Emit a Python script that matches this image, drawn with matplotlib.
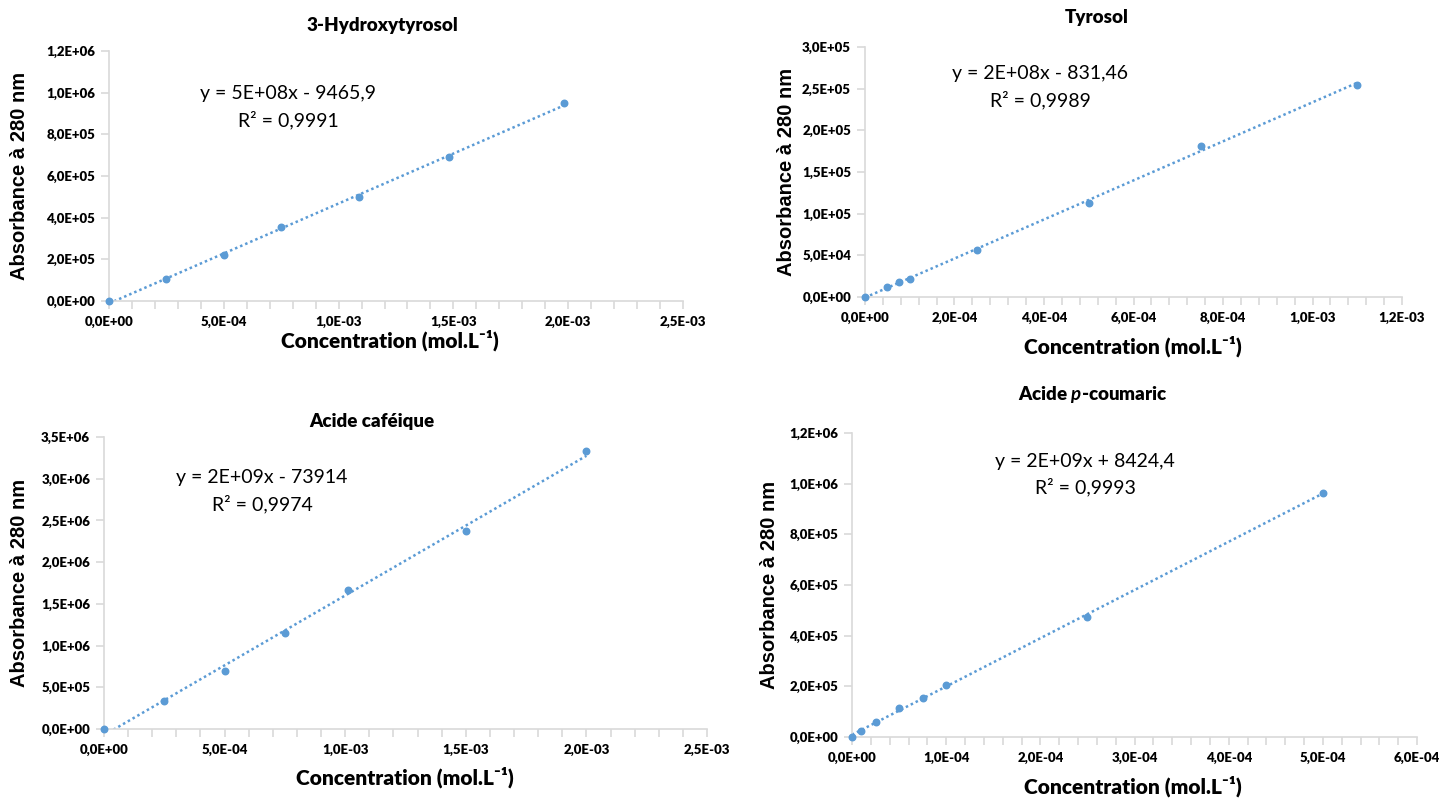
import numpy as np
import matplotlib.pyplot as plt
from matplotlib.ticker import MultipleLocator, FuncFormatter

plt.rcParams['mathtext.fontset'] = 'custom'
plt.rcParams['mathtext.it'] = 'Lato:italic:bold'
plt.rcParams['mathtext.rm'] = 'Lato:bold'

# Data
titles = ["3-Hydroxytyrosol", "Tyrosol", "Acide caféique", r"Acide $\mathit{p}$-coumaric"]
equations = ["y = 5E+08x - 9465,9", "y = 2E+08x - 831,46",
             "y = 2E+09x - 73914", "y = 2E+09x + 8424,4"]
r2_texts = ["R² = 0,9991", "R² = 0,9989", "R² = 0,9974", "R² = 0,9993"]

conc_hydroxytyrosol = [0, 2.5e-4, 5.0e-4, 7.5e-4, 1.09e-3, 1.48e-3, 1.98e-3]
abs_hydroxytyrosol = [0, 1.05e5, 2.2e5, 3.55e5, 5.0e5, 6.9e5, 9.5e5]

conc_tyrosol = [0, 5e-5, 7.5e-5, 1e-4, 2.5e-4, 5e-4, 7.5e-4, 1.1e-3]
abs_tyrosol = [0, 1.15e4, 1.8e4, 2.2e4, 5.6e4, 1.13e5, 1.81e5, 2.55e5]

conc_cafeique = [0, 2.5e-4, 5e-4, 7.5e-4, 1.01e-3, 1.5e-3, 2.0e-3]
abs_cafeique = [0, 3.35e5, 6.9e5, 1.15e6, 1.67e6, 2.37e6, 3.33e6]

conc_coumaric = [0, 1e-5, 2.5e-5, 5e-5, 7.5e-5, 1e-4, 2.5e-4, 5e-4]
abs_coumaric = [0, 2.5e4, 5.8e4, 1.15e5, 1.55e5, 2.05e5, 4.72e5, 9.65e5]

xmax = [2.5e-3, 1.2e-3, 2.5e-3, 6e-4]
xmajor = [5e-4, 2e-4, 5e-4, 1e-4]
ymax = [1.2e6, 3.0e5, 3.5e6, 1.2e6]
ymajor = [2e5, 5e4, 5e5, 2e5]

series = [(conc_hydroxytyrosol, abs_hydroxytyrosol), (conc_tyrosol, abs_tyrosol),
          (conc_cafeique, abs_cafeique), (conc_coumaric, abs_coumaric)]

W, H = 1445, 799
# axes boxes in pixels: left, top, right, bottom
boxes = [(109, 51, 683, 301), (865, 47, 1402, 297),
         (104, 437, 707, 729), (852, 433, 1417, 737)]
title_pos = [(382, 25), (1097, 17), (372, 422), (1093, 394)]
xlabel_pos = [(390, 340), (1133, 346), (405, 777), (1133, 786)]
ylabel_pos = [(20, 176), (787, 172), (20, 583), (770, 585)]
eq_pos = [(288, 94), (1040, 74), (262, 478), (1085, 461)]

blue = "#5b9bd5"
grey = "#d9d9d9"
narrow = ['Lato', 'DejaVu Sans']


def sci_comma(v, pos):
    return f"{v:.1E}".replace('.', ',')


def fx(px):
    return px / W


def fy(py):
    return 1 - py / H


fig = plt.figure(figsize=(14.45, 7.99), dpi=100)

for i, (x, y) in enumerate(series):
    l, t, r, b = boxes[i]
    ax = fig.add_axes([fx(l), fy(b), (r - l) / W, (b - t) / H])
    x = np.array(x)
    y = np.array(y)

    # linear trendline over the data range
    k, c = np.polyfit(x, y, 1)
    xs = np.array([x.min(), x.max()])
    ax.plot(xs, k * xs + c, linestyle=(0, (1, 1.2)), color=blue, lw=1.8)
    ax.scatter(x, y, s=22, color=blue, zorder=3, clip_on=False)

    ax.set_xlim(0, xmax[i])
    ax.set_ylim(0, ymax[i])
    ax.xaxis.set_major_locator(MultipleLocator(xmajor[i]))
    ax.xaxis.set_minor_locator(MultipleLocator(xmajor[i] / 5))
    ax.yaxis.set_major_locator(MultipleLocator(ymajor[i]))
    ax.xaxis.set_major_formatter(FuncFormatter(sci_comma))
    ax.yaxis.set_major_formatter(FuncFormatter(sci_comma))

    for s in ['top', 'right']:
        ax.spines[s].set_visible(False)
    for s in ['left', 'bottom']:
        ax.spines[s].set_color(grey)
        ax.spines[s].set_linewidth(1.2)
    ax.tick_params(axis='both', which='both', color=grey, width=1.2)
    ax.tick_params(axis='x', which='major', length=6, direction='out', pad=5)
    ax.tick_params(axis='x', which='minor', length=6, direction='out')
    ax.tick_params(axis='y', which='major', length=6, direction='out', pad=4)
    for lab in ax.get_xticklabels() + ax.get_yticklabels():
        lab.set_family(narrow)
        lab.set_fontweight('heavy')
        lab.set_fontsize(9.5)

    fig.text(fx(title_pos[i][0]), fy(title_pos[i][1]), titles[i], ha='center', va='center',
             family=narrow, fontweight='heavy', fontsize=13.5)
    fig.text(fx(xlabel_pos[i][0]), fy(xlabel_pos[i][1]), "Concentration (mol.L⁻¹)",
             ha='center', va='center', family=narrow, fontweight='heavy', fontsize=15)
    fig.text(fx(ylabel_pos[i][0]), fy(ylabel_pos[i][1]), "Absorbance à 280 nm",
             ha='center', va='center', rotation=90, family=['Liberation Sans', 'DejaVu Sans'],
             fontweight='bold', fontsize=14.5)
    ex, ey = eq_pos[i]
    fig.text(fx(ex), fy(ey), equations[i], ha='center', va='center',
             family=narrow, fontsize=14)
    fig.text(fx(ex), fy(ey + 26), r2_texts[i], ha='center', va='center',
             family=narrow, fontsize=14)

fig.savefig("out.png", dpi=100)
